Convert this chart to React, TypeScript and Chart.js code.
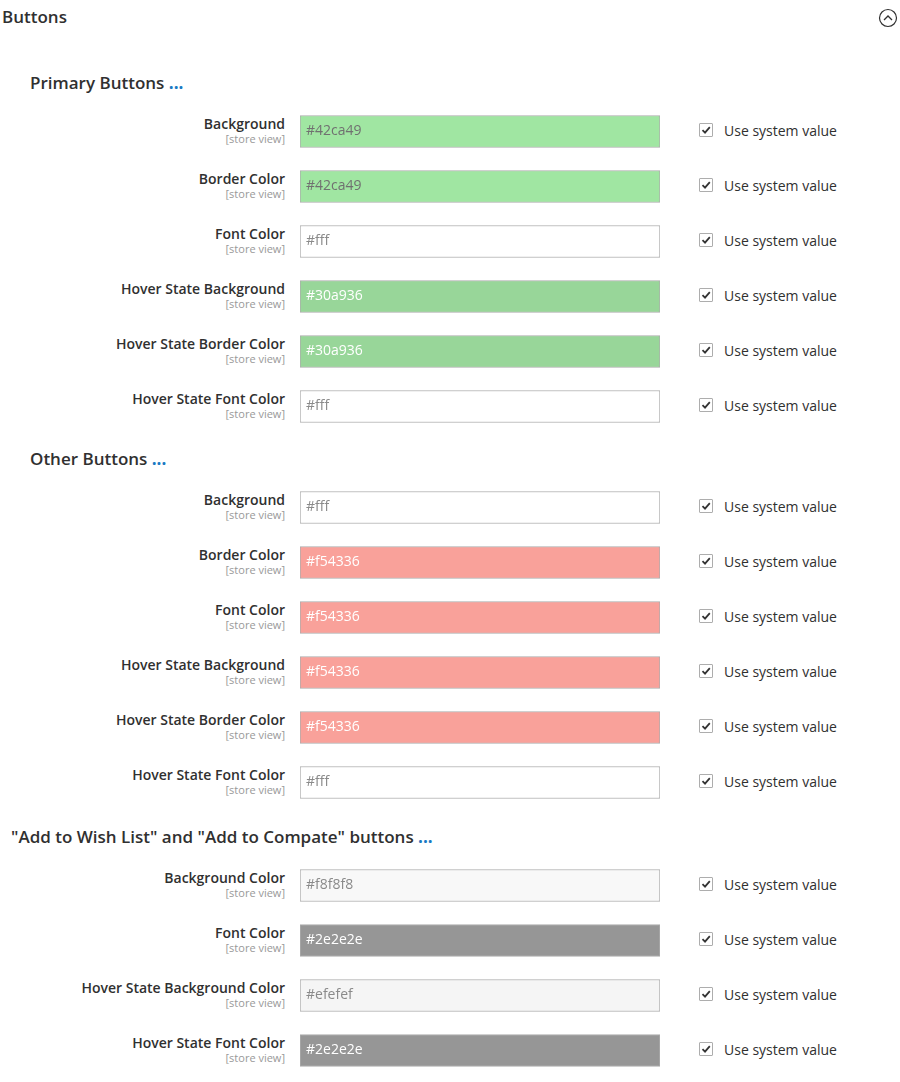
import { useEffect, useRef } from 'react';
import Chart from 'chart.js/auto';

const primaryLabels = ['Background', 'Border Color', 'Font Color', 'Hover State Background', 'Hover State Border Color', 'Hover State Font Color'];
const primaryValues = ['#42ca49', '#42ca49', '#fff', '#30a936', '#30a936', '#fff'];
const primaryFills = ['#a0e6a2', '#a0e6a2', '#ffffff', '#98d699', '#98d699', '#ffffff'];
const primaryText = ['#707070', '#707070', '#8a8a8a', '#ffffff', '#ffffff', '#8a8a8a'];

const otherLabels = ['Background', 'Border Color', 'Font Color', 'Hover State Background', 'Hover State Border Color', 'Hover State Font Color'];
const otherValues = ['#fff', '#f54336', '#f54336', '#f54336', '#f54336', '#fff'];
const otherFills = ['#ffffff', '#f9a19a', '#f9a19a', '#f9a19a', '#f9a19a', '#ffffff'];
const otherText = ['#8a8a8a', '#ffffff', '#ffffff', '#ffffff', '#ffffff', '#8a8a8a'];

const wishLabels = ['Background Color', 'Font Color', 'Hover State Background Color', 'Hover State Font Color'];
const wishValues = ['#f8f8f8', '#2e2e2e', '#efefef', '#2e2e2e'];
const wishFills = ['#f8f8f8', '#969696', '#f5f5f5', '#969696'];
const wishText = ['#8a8a8a', '#ffffff', '#8a8a8a', '#ffffff'];

const FONT = '"Open Sans", sans-serif';
const ROW = 55;

function Swatches({ labels, values, fills, textColors, top }: { labels: string[]; values: string[]; fills: string[]; textColors: string[]; top: number }) {
  const ref = useRef<HTMLCanvasElement | null>(null);
  useEffect(() => {
    if (!ref.current) return;
    const chart = new Chart(ref.current, {
      type: 'bar',
      data: {
        labels,
        datasets: [{
          data: labels.map(() => [0, 1]) as any,
          backgroundColor: fills,
          borderColor: '#adadad',
          borderWidth: 1,
          borderSkipped: false,
          barThickness: 32,
        }],
      },
      options: {
        indexAxis: 'y',
        animation: false,
        responsive: false,
        layout: { padding: 0 },
        plugins: { legend: { display: false }, tooltip: { enabled: false } },
        scales: {
          x: { display: false, min: 0, max: 1 },
          y: { display: false },
        },
      },
      plugins: [{
        id: 'fieldText',
        afterDatasetsDraw(c) {
          const ctx = c.ctx;
          const meta = c.getDatasetMeta(0);
          ctx.save();
          ctx.font = `14px ${FONT}`;
          ctx.textBaseline = 'middle';
          meta.data.forEach((el: any, i) => {
            ctx.fillStyle = textColors[i];
            ctx.fillText(values[i], el.base + 6, el.y);
          });
          ctx.restore();
        },
      }],
    });
    return () => chart.destroy();
  }, []);
  return (
    <canvas ref={ref} width={360} height={labels.length * ROW}
      style={{ position: 'absolute', left: 299.5, top: top - ROW / 2, width: 360, height: labels.length * ROW }} />
  );
}

function Rows({ labels, top }: { labels: string[]; top: number }) {
  return (
    <>
      {labels.map((l, i) => (
        <div key={i}>
          <div style={{ position: 'absolute', right: 900 - 285, top: top + i * ROW - 16, textAlign: 'right', whiteSpace: 'nowrap' }}>
            <div style={{ fontSize: 14, fontWeight: 600, color: '#303030', lineHeight: '18px' }}>{l}</div>
            <div style={{ fontSize: 11, color: '#999', lineHeight: '12px' }}>[store view]</div>
          </div>
          <div style={{ position: 'absolute', left: 699, top: top + i * ROW - 8, width: 14, height: 14, border: '1px solid #adadad', borderRadius: 1, boxSizing: 'border-box', background: '#fff' }}>
            <svg width="12" height="12" viewBox="0 0 12 12" style={{ position: 'absolute', left: 0, top: 0 }}>
              <path d="M2.5 6.2 L5 8.6 L9.8 3.2" stroke="#333" strokeWidth="1.8" fill="none" />
            </svg>
          </div>
          <div style={{ position: 'absolute', left: 724, top: top + i * ROW - 10, fontSize: 14, color: '#303030', lineHeight: '20px' }}>Use system value</div>
        </div>
      ))}
    </>
  );
}

export default function App() {
  useEffect(() => { document.body.style.margin = '0'; }, []);
  const dots = <span style={{ color: '#1979c3', fontWeight: 700 }}> ...</span>;
  const heading = (left: number, top: number, text: string) => (
    <div style={{ position: 'absolute', left, top: top - 12, fontSize: 17, fontWeight: 600, color: '#303030', lineHeight: '24px', whiteSpace: 'nowrap' }}>{text}{dots}</div>
  );
  return (
    <div style={{ position: 'relative', width: 900, height: 1082, fontFamily: FONT, background: '#fff', overflow: 'hidden' }}>
      <div style={{ position: 'absolute', left: 2, top: 5, fontSize: 17, fontWeight: 600, color: '#303030', lineHeight: '24px' }}>Buttons</div>
      <svg width="20" height="20" style={{ position: 'absolute', left: 878, top: 8 }}>
        <circle cx="10" cy="10" r="8.5" stroke="#303030" strokeWidth="1.2" fill="none" />
        <path d="M6 12 L10 8 L14 12" stroke="#303030" strokeWidth="1.3" fill="none" />
      </svg>
      {heading(30, 83, 'Primary Buttons')}
      <Rows labels={primaryLabels} top={131} />
      <Swatches labels={primaryLabels} values={primaryValues} fills={primaryFills} textColors={primaryText} top={131} />
      {heading(30, 459, 'Other Buttons')}
      <Rows labels={otherLabels} top={507} />
      <Swatches labels={otherLabels} values={otherValues} fills={otherFills} textColors={otherText} top={507} />
      {heading(11, 837, '"Add to Wish List" and "Add to Compate" buttons')}
      <Rows labels={wishLabels} top={885} />
      <Swatches labels={wishLabels} values={wishValues} fills={wishFills} textColors={wishText} top={885} />
    </div>
  );
}
